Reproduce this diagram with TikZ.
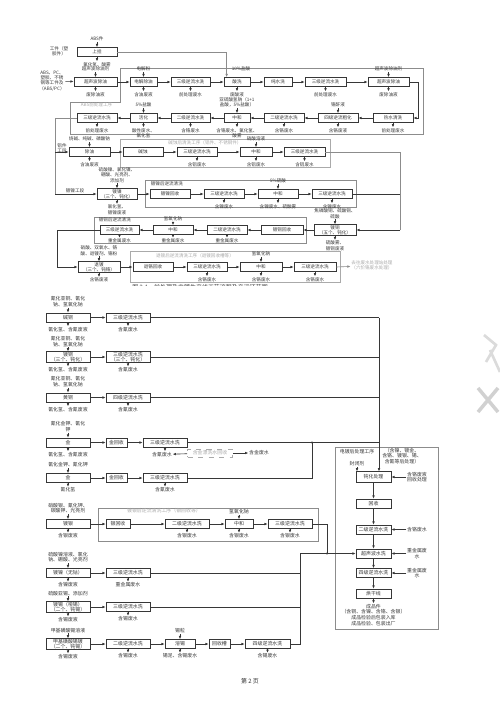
\documentclass[tikz,border=0pt]{standalone}
\usepackage{fontspec}
\setmainfont{Noto Sans CJK SC}
\usepackage{tikz}
\usetikzlibrary{positioning,arrows.meta,calc}
\usepackage{xcolor}
\definecolor{ink}{RGB}{55,55,55}
\definecolor{rule}{RGB}{140,140,140}
\definecolor{faint}{RGB}{170,170,170}
\def\chartsize{2.6pt}
\def\chartskip{3.0pt}
\newcommand{\chartfont}{\fontsize{\chartsize}{\chartskip}\selectfont}

\begin{document}
\begin{tikzpicture}[
  x=0.02cm, y=-0.02cm,
  box/.style={draw=ink, line width=0.4pt, fill=white, minimum width=#1*0.02cm,
    minimum height=0.18cm, inner sep=0pt, align=center, font=\chartfont, text=ink},
  box/.default=40,
  tbox/.style={box=#1, minimum height=0.21cm},
  tbox/.default=42,
  lbl/.style={font=\chartfont, inner sep=0.3pt, align=center, text=ink},
  faintlbl/.style={lbl, text=faint},
  flow/.style={draw=ink, line width=0.35pt, -{Latex[length=1.8pt,width=1.5pt]}},
  wire/.style={draw=ink, line width=0.35pt},
  frm/.style={draw=rule, line width=0.35pt},
  jdot/.style={circle, fill=ink, inner sep=0pt, minimum size=1.4pt}
]
\useasboundingbox (0,0) rectangle (500,707);
\fill[white] (0,0) rectangle (500,707);

% ---------- upper chart ----------
\draw[frm] (120,68) -- (423,68) -- (423,134) -- (70,134) -- (70,102) -- (120,102) -- cycle;
\node[faintlbl, anchor=west] (F1t) at (80,105) {ABS前处理工序};
\draw[frm, draw=faint] (120,139) rectangle (330,167);
\node[faintlbl] (F2t) at (205,143) {碱蚀后清洗工序（铝件、不锈钢件）};
\draw[frm] (145,180) rectangle (356,207);
\node[lbl, anchor=west] (F3t) at (150,184) {镀镍后逆流清洗};
\draw[frm] (94,217) rectangle (306,243);
\node[lbl, anchor=west] (F4t) at (98,220) {镀铜后逆流清洗};
\draw[frm, draw=faint] (130,251) rectangle (340,282);
\node[faintlbl] (F5t) at (195,256) {退镀后逆流清洗工序（退镀回收槽等）};

\node[box=40] (U0) at (97,52) {上挂};
\node[lbl, above=0.1cm of U0] (U0a) {ABS件};
\node[lbl] (U0l) at (59,51) {工件（塑\\胶件）};
\node[lbl, below=0.09cm of U0] (U0b) {氯化氢、酸雾};
\draw[flow] (U0a) -- (U0);
\draw[flow] (U0) -- (U0b);

\node[box=43] (U1) at (95.5,82) {超声波除油};
\node[box=27] (U2) at (143.5,82) {电解除油};
\node[box=39] (U3) at (190.5,82) {三级逆流水洗};
\node[box=26] (U4) at (237,82) {酸洗};
\node[box=28] (U5) at (278,82) {纯水洗};
\node[box=41] (U6) at (325.5,82) {三级逆流水洗};
\node[box=41] (U7) at (388.5,82) {超声波除油};
\node[lbl, above=0.1cm of U1] (U1a) {超声波除油剂};
\node[lbl, below=0.09cm of U1] (U1b) {废除油液};
\node[lbl] (U1l) at (52,81) {ABS、PC、\\塑胶、不锈\\钢等工件及\\（ABS/PC）};
\node[lbl, above=0.1cm of U2] (U2a) {电解粉};
\node[lbl, below=0.09cm of U2] (U2b) {含油废液};
\node[lbl, below=0.09cm of U3] (U3b) {前处理废水};
\node[lbl, above=0.1cm of U4, xshift=0.08cm] (U4a) {10\%盐酸};
\node[lbl, below=0.09cm of U4] (U4b) {废酸液};
\node[lbl, below=0.09cm of U6] (U6b) {前处理废水};
\node[lbl, above=0.1cm of U7] (U7a) {超声波除油剂};
\node[lbl, below=0.09cm of U7] (U7b) {废除油液};
\draw[flow] (U1a) -- (U1); \draw[flow] (U1) -- (U1b);
\draw[flow] (U2a) -- (U2); \draw[flow] (U2) -- (U2b);
\draw[flow] (U3) -- (U3b); \draw[flow] (U4) -- (U4b);
\draw[flow] (U6) -- (U6b);
\draw[flow] (U7a) -- (U7); \draw[flow] (U7) -- (U7b);
\draw[flow] (U1l) -- (U1);
\draw[flow] (U1) edge (U2) (U2) edge (U3) (U3) edge (U4) (U4) edge (U5)
  (U5) edge (U6) (U6) edge (U7);
\draw[flow, draw=rule] (U0.east) -| ([xshift=0.06cm]U4.north west);

\node[box=40] (U8) at (393,118) {热水清洗};
\node[box=40] (U9) at (338,118) {四级逆流粗化};
\node[box=40] (U10) at (284,118) {二级逆流水洗};
\node[box=26] (U11) at (237,118) {中和};
\node[box=39] (U12) at (190.5,118) {二级逆流水洗};
\node[box=27] (U13) at (143.5,118) {活化};
\node[box=40] (U14) at (97,118) {三级逆流水洗};
\node[lbl, below=0.09cm of U8] (U8b) {前处理废水};
\node[lbl, above=0.1cm of U9] (U9a) {铬酐液};
\node[lbl, below=0.09cm of U9] (U9b) {含铬废液};
\node[lbl, below=0.09cm of U10] (U10b) {含铬废水};
\node[lbl, above=0.1cm of U11] (U11a) {亚硫酸氢钠（1+1\\盐酸，5\%盐酸）};
\node[lbl, below=0.09cm of U11] (U11b) {含铬废水、氯化氢、\\酸雾};
\node[lbl, below=0.09cm of U12] (U12b) {含铬废水};
\node[lbl, above=0.1cm of U13] (U13a) {5\%盐酸};
\node[lbl, below=0.09cm of U13] (U13b) {酸性废水、\\氯化氢};
\node[lbl, below=0.09cm of U14] (U14b) {前处理废水};
\draw[flow] (U8) -- (U8b);
\draw[flow] (U9a) -- (U9); \draw[flow] (U9) -- (U9b);
\draw[flow] (U10) -- (U10b);
\draw[flow] (U11a) -- (U11); \draw[flow] (U11) -- (U11b);
\draw[flow] (U12) -- (U12b);
\draw[flow] (U13a) -- (U13); \draw[flow] (U13) -- (U13b);
\draw[flow] (U14) -- (U14b);
\draw[flow] (U7.east) -- ++(9,0) |- (U8.east);
\draw[flow] (U8) edge (U9) (U9) edge (U10) (U10) edge (U11) (U11) edge (U12)
  (U12) edge (U13) (U13) edge (U14);

\coordinate (J1) at (55,118);
\coordinate (J2) at (55,152);
\coordinate (J3) at (55,194);
\draw[wire, draw=rule] (U14.west) -- (J1) -- (J3);

\node[box=41] (U15) at (89.5,152) {除油};
\node[box=40] (U16) at (143,152) {碱蚀};
\node[box=40] (U17) at (197,152) {三级逆流水洗};
\node[box=32] (U18) at (256,152) {中和};
\node[box=41] (U19) at (304.5,152) {三级逆流水洗};
\node[lbl] (U15l) at (62,148) {铝件\\工段};
\node[lbl, above=0.1cm of U15] (U15a) {烧碱、纯碱、磷酸钠};
\node[lbl, below=0.09cm of U15] (U15b) {含油废液};
\node[lbl, below=0.09cm of U17] (U17b) {含铝废水};
\node[lbl, above=0.1cm of U18] (U18a) {硝酸溶液};
\node[lbl, below=0.09cm of U18] (U18b) {含铝废水};
\node[lbl, below=0.09cm of U19] (U19b) {含铝废水};
\draw[flow] (J2) -- (U15);
\draw[flow] (U15a) -- (U15); \draw[flow] (U15) -- (U15b);
\draw[flow] (U17) -- (U17b);
\draw[flow] (U18a) -- (U18); \draw[flow] (U18) -- (U18b);
\draw[flow] (U19) -- (U19b);
\draw[flow] (U15) edge (U16) (U16) edge (U17) (U17) edge (U18) (U18) edge (U19);

\coordinate (J4) at (400,152);
\coordinate (J5) at (400,194);
\coordinate (J6) at (400,230);
\draw[wire, draw=rule] (U19.east) -- (J4) -- (J6);

\node[tbox=40] (U20) at (117,194) {镀镍\\（三个、钝化）};
\node[box=40] (U21) at (170,194) {镀镍回收};
\node[box=40] (U22) at (224,194) {三级逆流水洗};
\node[box=40] (U23) at (278,194) {中和};
\node[box=40] (U24) at (332,194) {三级逆流水洗};
\node[lbl] (U20l) at (75,191) {镀镍工段};
\node[lbl, above=0.1cm of U20] (U20a) {硫酸镍、氯化镍、\\硼酸、光亮剂、\\添加剂};
\node[lbl, below=0.09cm of U20] (U20b) {氯化氢、\\镀镍废液};
\node[lbl, below=0.09cm of U22] (U22b) {含镍废水};
\node[lbl, above=0.1cm of U23] (U23a) {5\%硫酸};
\node[lbl, below=0.09cm of U23] (U23b) {含镍废水、硫酸雾};
\node[lbl, below=0.09cm of U24] (U24b) {含镍废水};
\draw[flow] (J3) -- (U20);
\draw[flow] (U20a) -- (U20); \draw[flow] (U20) -- (U20b);
\draw[flow] (U22) -- (U22b);
\draw[flow] (U23a) -- (U23); \draw[flow] (U23) -- (U23b);
\draw[flow] (U24) -- (U24b);
\draw[flow] (U20) edge (U21) (U21) edge (U22) (U22) edge (U23) (U23) edge (U24);
\draw[wire] (U24.east) -- (J5);

\node[tbox=42] (U25) at (335,230) {镀铜\\（五个、钝化）};
\node[box=42] (U26) at (282,230) {镀铜回收};
\node[box=40] (U27) at (227,230) {二级逆流水洗};
\node[box=40] (U28) at (173,230) {中和};
\node[box=39] (U29) at (119.5,230) {三级逆流水洗};
\node[lbl, above=0.1cm of U25] (U25a) {焦磷酸铜、硫酸铜、\\硫酸};
\node[lbl, below=0.09cm of U25] (U25b) {硫酸雾、\\镀铜废液};
\node[lbl, below=0.06cm of U27] (U27b) {重金属废水};
\node[lbl, above=0.06cm of U28] (U28a) {氢氧化钠};
\node[lbl, below=0.06cm of U28] (U28b) {重金属废水};
\node[lbl, below=0.06cm of U29] (U29b) {重金属废水};
\draw[flow] (J6) -- (U25);
\draw[flow] (U25a) -- (U25); \draw[flow] (U25) -- (U25b);
\draw[flow] (U27) -- (U27b);
\draw[flow] (U28a) -- (U28); \draw[flow] (U28) -- (U28b);
\draw[flow] (U29) -- (U29b);
\draw[flow] (U25) edge (U26) (U26) edge (U27) (U27) edge (U28) (U28) edge (U29);

\coordinate (J7) at (57,230);
\coordinate (J8) at (57,267);
\draw[wire] (U29.west) -- (J7) -- (J8);

\node[tbox=42] (U30) at (99,267) {退镀\\（三个、钝铬）};
\node[box=40] (U31) at (153,267) {退铬回收};
\node[box=40] (U32) at (207,267) {三级逆流水洗};
\node[box=42] (U33) at (261,267) {中和};
\node[box=42] (U34) at (315,267) {三级逆流水洗};
\node[lbl, above=0.1cm of U30] (U30a) {硝酸、双氧水、铬\\酸、退镀剂、铬粉};
\node[lbl, below=0.09cm of U30] (U30b) {含铬废液};
\node[lbl, below=0.09cm of U32] (U32b) {含铬废水};
\node[lbl, above=0.1cm of U33] (U33a) {氢氧化钠};
\node[lbl, below=0.09cm of U33] (U33b) {含铬废水};
\node[lbl, below=0.09cm of U34] (U34b) {含铬废水};
\node[faintlbl] (U35) at (372,265.5) {去往废水处理站处理\\（六价铬废水处理）};
\draw[flow] (J8) -- (U30);
\draw[flow] (U30a) -- (U30); \draw[flow] (U30) -- (U30b);
\draw[flow] (U32) -- (U32b);
\draw[flow] (U33a) -- (U33); \draw[flow] (U33) -- (U33b);
\draw[flow] (U34) -- (U34b);
\draw[flow] (U30) edge (U31) (U31) edge (U32) (U32) edge (U33) (U33) edge (U34);
\draw[flow, draw=rule] (U34.east) -- (U35);

\begin{scope}
  \clip (0,0) rectangle (500,285);
  \node[font=\fontsize{3.4pt}{4pt}\selectfont, text=black!75] (CAP) at (200,287.5)
    {图 2-1\quad 前处理及电镀生产线工艺流程及产污环节图};
\end{scope}

% ---------- lower chart ----------
\begin{scope}
\def\chartsize{2.8pt}
\def\chartskip{3.2pt}
\draw[frm] (98,508) rectangle (318,541);
\node[faintlbl] (F6t) at (164,511) {镀银后逆流清洗工序（银回收等）};
\draw[frm] (335,447) rectangle (438,629);
\node[lbl, anchor=west] (F7t) at (339,452) {电镀后处理工序};
\node[lbl] (F7r) at (402,456) {（含镍、镀金、\\含铬、镀银、锡、\\含氰等后处理）};

\node[box=44] (L1) at (68,317.5) {碱铜};
\node[box=44] (L1w) at (128,317.5) {三级逆流水洗};
\node[lbl, above=0.1cm of L1] (L1a) {氰化亚铜、氰化\\钠、氢氧化钠};
\node[lbl, below=0.08cm of L1] (L1b) {氰化氢、含氰废液};
\node[lbl, below=0.08cm of L1w] (L1wb) {含氰废水};
\draw[flow] (L1a) -- (L1); \draw[flow] (L1) -- (L1b);
\draw[flow] (L1w) -- (L1wb); \draw[flow] (L1) -- (L1w);

\node[tbox=44] (L2) at (68,357) {镀铜\\（三个、钝化）};
\node[tbox=44] (L2w) at (128,357) {三级逆流水洗\\（三个、钝化）};
\node[lbl, above=0.08cm of L2] (L2a) {氰化亚铜、氰化\\钠、氢氧化钠};
\node[lbl, below=0.08cm of L2] (L2b) {氰化氢、含氰废液};
\node[lbl, below=0.08cm of L2w] (L2wb) {含氰废水};
\draw[flow] (L2a) -- (L2); \draw[flow] (L2) -- (L2b);
\draw[flow] (L2w) -- (L2wb); \draw[flow] (L2) -- (L2w);

\node[box=44] (L3) at (68,397.5) {黄铜};
\node[box=44] (L3w) at (128,397.5) {四级逆流水洗};
\node[lbl, above=0.1cm of L3] (L3a) {氰化亚铜、氰化\\钠、氢氧化钠};
\node[lbl, below=0.08cm of L3] (L3b) {氰化氢、含氰废液};
\node[lbl, below=0.08cm of L3w] (L3wb) {含氰废水};
\draw[flow] (L3a) -- (L3); \draw[flow] (L3) -- (L3b);
\draw[flow] (L3w) -- (L3wb); \draw[flow] (L3) -- (L3w);

\node[box=44] (L4) at (68,442.5) {金};
\node[box=21] (L4r) at (116.5,442.5) {金回收};
\node[box=44] (L4w) at (165,442.5) {三级逆流水洗};
\node[lbl, above=0.1cm of L4] (L4a) {氰化金钾、氰化\\钾};
\node[lbl, below=0.08cm of L4] (L4b) {氰化氢、含氰废液};
\node[lbl, below=0.08cm of L4w, xshift=-0.06cm] (L4wb) {含氰废水};
\node[box=45, dashed, draw=faint, text=faint, minimum height=0.16cm] (D1) at (210,453) {含金漂洗水回收};
\node[lbl] (D1t) at (259,453) {含金废水};
\draw[flow] (L4a) -- (L4); \draw[flow] (L4) -- (L4b);
\draw[flow] (L4) edge (L4r) (L4r) edge (L4w);
\draw[flow] (L4w) -- (L4w |- L4wb.north);
\draw[flow] (D1) -- (L4wb); \draw[flow] (D1) -- (D1t);

\node[box=44] (L5) at (68,478) {金};
\node[box=21] (L5r) at (116.5,478) {金回收};
\node[box=44] (L5w) at (165,478) {三级逆流水洗};
\node[lbl, above=0.1cm of L5] (L5a) {氰化金钾、氰化钾};
\node[lbl, below=0.08cm of L5] (L5b) {氰化氢};
\node[lbl, below=0.08cm of L5w] (L5wb) {含氰废水};
\draw[flow] (L5a) -- (L5); \draw[flow] (L5) -- (L5b);
\draw[flow] (L5w) -- (L5wb);
\draw[flow] (L5) edge (L5r) (L5r) edge (L5w);

\node[box=44] (L6) at (68,524) {镀银};
\node[box=24] (L6r) at (118,524) {银回收};
\node[box=44] (L6c) at (187,524) {二级逆流水洗};
\node[box=28] (L6d) at (239,524) {中和};
\node[box=44] (L6e) at (290,524) {三级逆流水洗};
\node[lbl, above=0.1cm of L6] (L6a) {硝酸银、氰化钾、\\碳酸钾、光亮剂};
\node[lbl, below=0.08cm of L6] (L6b) {含银废液};
\node[lbl, below=0.08cm of L6c] (L6cb) {含银废水};
\node[lbl, above=0.08cm of L6d] (L6da) {氢氧化钠};
\node[lbl, below=0.08cm of L6d] (L6db) {含银废水};
\node[lbl, below=0.08cm of L6e] (L6eb) {含银废水};
\draw[flow] (L6a) -- (L6); \draw[flow] (L6) -- (L6b);
\draw[flow] (L6c) -- (L6cb); \draw[flow] (L6da) -- (L6d); \draw[flow] (L6d) -- (L6db);
\draw[flow] (L6e) -- (L6eb);
\draw[flow] (L6) edge (L6r) (L6r) edge (L6c) (L6c) edge (L6d) (L6d) edge (L6e);

\node[box=44] (L7) at (68,573) {镀镍（无钴）};
\node[box=44] (L7w) at (128,573) {三级逆流水洗};
\node[lbl, above=0.1cm of L7] (L7a) {硫酸镍溶液、氯化\\钠、硼酸、光亮剂};
\node[lbl, below=0.08cm of L7] (L7b) {含镍废液};
\node[lbl, below=0.08cm of L7w] (L7wb) {重金属废水};
\draw[flow] (L7a) -- (L7); \draw[flow] (L7) -- (L7b);
\draw[flow] (L7w) -- (L7wb); \draw[flow] (L7) -- (L7w);

\node[tbox=44] (L8) at (68,607) {镀锡（哑锡）\\（二个、钝锡）};
\node[box=44] (L8w) at (128,607) {三级逆流水洗};
\node[lbl, above=0.1cm of L8] (L8a) {硫酸亚锡、添加剂};
\node[lbl, below=0.08cm of L8] (L8b) {含锡废液};
\node[lbl, below=0.08cm of L8w] (L8wb) {含锡废水};
\draw[flow] (L8a) -- (L8); \draw[flow] (L8) -- (L8b);
\draw[flow] (L8w) -- (L8wb); \draw[flow] (L8) -- (L8w);

\node[tbox=44] (L9) at (68,644) {甲基磺酸锡镀\\（二个、钝锡）};
\node[box=44] (L9w) at (128,644) {二级逆流水洗};
\node[box=30] (L9c) at (180,644) {溶锡};
\node[box=21] (L9d) at (219.5,644) {回收槽};
\node[box=45] (L9e) at (267.5,644) {四级逆流水洗};
\node[lbl, above=0.1cm of L9] (L9a) {甲基磺酸锡溶液};
\node[lbl, above=0.1cm of L9c] (L9ca) {锡粒};
\node[lbl, below=0.08cm of L9] (L9b) {含锡废液};
\node[lbl, below=0.08cm of L9w] (L9wb) {含锡废水};
\node[lbl, below=0.08cm of L9c] (L9cb) {锡泥、含锡废水};
\node[lbl, below=0.08cm of L9e] (L9eb) {含锡废水};
\draw[flow] (L9a) -- (L9); \draw[flow] (L9) -- (L9b);
\draw[flow] (L9w) -- (L9wb); \draw[flow] (L9ca) -- (L9c); \draw[flow] (L9c) -- (L9cb);
\draw[flow] (L9e) -- (L9eb);
\draw[flow] (L9) edge (L9w) (L9w) edge (L9c) (L9c) edge (L9d) (L9d) edge (L9e);

% right column
\node[tbox=35] (RB1) at (373.5,477) {钝化处理};
\node[box=35] (RB2) at (373.5,503.5) {回收};
\node[box=35] (RB3) at (373.5,529.5) {二级逆流水洗};
\node[box=35] (RB4) at (373.5,553.5) {超声波水洗};
\node[box=35] (RB5) at (373.5,573) {四级逆流水洗};
\node[box=35] (RB6) at (373.5,593.5) {烘干线};
\node[lbl] (RB1a) at (357,464) {封闭剂};
\node[lbl, right=0.3cm of RB1] (RB1r) {含铬废液\\回收处理};
\node[lbl, right=0.3cm of RB3] (RB3r) {含铬废水};
\node[lbl, right=0.3cm of RB4] (RB4r) {重金属废\\水};
\node[lbl, right=0.3cm of RB5] (RB5r) {重金属废\\水};
\node[lbl, below=0.1cm of RB6] (RB7) {成品件\\（含铜、含镍、含铬、含银）\\成品检验后包装入库\\成品检验、包装出厂};
\draw[flow] (RB1a) -- (RB1a |- RB1.north);
\draw[flow] (RB1) edge (RB2) (RB2) edge (RB3) (RB3) edge (RB4) (RB4) edge (RB5)
  (RB5) edge (RB6) (RB6) edge (RB7);
\draw[flow] (RB1r) -- (RB1); \draw[flow] (RB3r) -- (RB3);
\draw[flow] (RB4r) -- (RB4); \draw[flow] (RB5r) -- (RB5);

% collectors
\coordinate (C1) at (379,317.5);
\coordinate (C2) at (379,357);
\coordinate (C3) at (379,397.5);
\coordinate (C4) at (312,442.5);
\coordinate (C5) at (312,478);
\coordinate (C6) at (327,524);
\coordinate (C7) at (327,553.5);
\coordinate (C8) at (300,573);
\coordinate (C9) at (300,607);
\coordinate (C10) at (300,644);
\coordinate (C11) at (300,553.5);
\draw[wire] (L1w) -- (C1); \draw[wire] (L2w) -- (C2); \draw[wire] (L3w) -- (C3);
\draw[wire] (L4w) -- (C4) -- (C4 -| C1);
\draw[flow] (C1) -- (C1 |- RB1.north);
\draw[wire] (L5w) -- (C5) -- (C4);
\node[jdot] (D4) at (C4) {};
\draw[wire] (L6e) -- (C6) -- (C7);
\draw[wire] (L7w) -- (C8); \draw[wire] (L8w) -- (C9);
\draw[wire] (L9e) -- (C10) -- (C11);
\draw[flow] (C11) -- (RB4);
\node[jdot] (D7) at (C7) {};
\end{scope}

% page footer
\node[font=\fontsize{3.4pt}{4pt}\selectfont, text=black!80] (PG) at (250,681) {第 2 页};

% scan shadow at the binding edge
\draw[black!18, line width=2pt] (478,388) -- (498,412) (478,412) -- (498,388);
\draw[black!14, line width=1.5pt] (484,335) -- (496,345) -- (486,362) (490,350) -- (500,372);
\end{tikzpicture}
\end{document}
